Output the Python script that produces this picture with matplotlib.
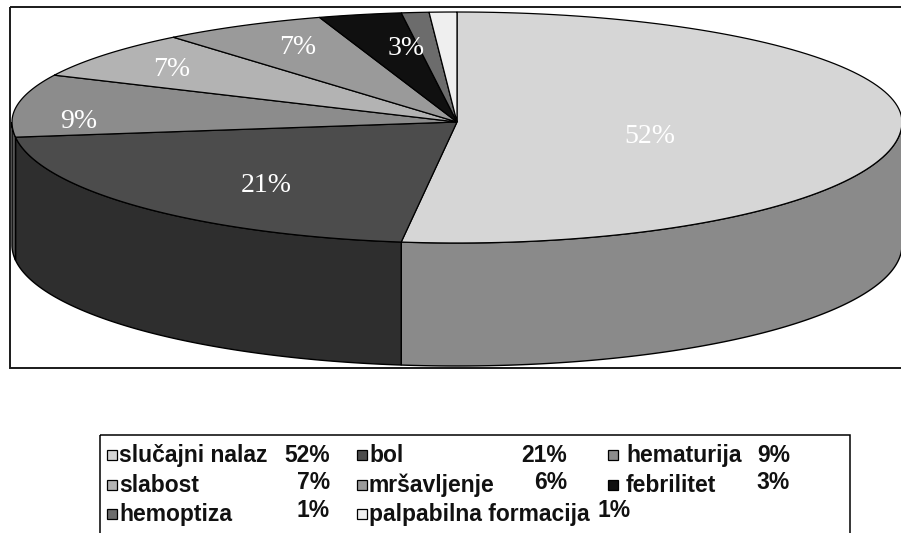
import numpy as np
import matplotlib
matplotlib.use("Agg")
import matplotlib.pyplot as plt
from matplotlib.patches import Polygon, Rectangle

# data (legend values; chart labels as printed)
CATEGORIES = ["slučajni nalaz", "bol", "hematurija", "slabost", "mršavljenje",
              "febrilitet", "hemoptiza", "palpabilna formacija"]
PERCENT = [52, 21, 9, 7, 6, 3, 1, 1]
PIE_LABELS = ["52%", "21%", "9%", "7%", "7%", "3%", "", ""]

TOP_COLORS = ["#d6d6d6", "#4c4c4c", "#8c8c8c", "#b3b3b3", "#9a9a9a",
              "#101010", "#6c6c6c", "#efefef"]
SIDE_COLORS = ["#8a8a8a", "#2e2e2e", "#555555", "#777777", "#666666",
               "#080808", "#444444", "#b0b0b0"]

# label nudges (degrees) and radial fraction, to sit where the scan has them
LABEL_NUDGE = [12, -6, -9, -1, 1, 3, 0, 0]
LABEL_R = [0.45, 0.68, 0.85, 0.80, 0.77, 0.68, 0, 0]

# pie geometry in pixels
CX, CY = 457, 122
A, B_BACK, B_FRONT = 445, 110, 121
DEPTH = 123

W, H = 901, 533


def rim(theta, f=1.0):
    t = np.radians(theta)
    b = np.where(np.cos(t) > 0, B_BACK, B_FRONT)
    return CX + A * f * np.sin(t), CY - b * f * np.cos(t)


fig = plt.figure(figsize=(W / 100, H / 100), dpi=100)
ax = fig.add_axes([0, 0, 1, 1])
ax.set_xlim(0, W)
ax.set_ylim(H, 0)
ax.axis("off")

frame = Rectangle((10, 7), 900, 361, fill=False, edgecolor="#1a1a1a", lw=1.4, zorder=10)
ax.add_patch(frame)
clip = Rectangle((10, 7), 900, 361, transform=ax.transData)

bounds = np.concatenate([[0], np.cumsum(PERCENT)]) / sum(PERCENT) * 360.0

# outer walls (front half only)
for i in range(len(PERCENT)):
    lo, hi = max(bounds[i], 90), min(bounds[i + 1], 270)
    if hi <= lo:
        continue
    ts = np.linspace(lo, hi, 120)
    x, y = rim(ts)
    pts = np.column_stack([np.concatenate([x, x[::-1]]),
                           np.concatenate([y, y[::-1] + DEPTH])])
    p = Polygon(pts, closed=True, facecolor=SIDE_COLORS[i], edgecolor="black", lw=1.0)
    ax.add_patch(p)
    p.set_clip_path(clip)

# top faces
for i in range(len(PERCENT)):
    ts = np.linspace(bounds[i], bounds[i + 1], 120)
    x, y = rim(ts)
    pts = np.column_stack([np.concatenate([[CX], x]), np.concatenate([[CY], y])])
    p = Polygon(pts, closed=True, facecolor=TOP_COLORS[i], edgecolor="black", lw=0.9)
    ax.add_patch(p)
    p.set_clip_path(clip)

for i, lab in enumerate(PIE_LABELS):
    if not lab:
        continue
    mid = (bounds[i] + bounds[i + 1]) / 2 + LABEL_NUDGE[i]
    lx, ly = rim(mid, LABEL_R[i])
    ax.text(lx, ly, lab, color="white", fontsize=20, ha="center", va="center",
            family=["Liberation Serif", "DejaVu Serif"], zorder=5)

# legend box (runs off the bottom of the scan)
ax.add_patch(Rectangle((100, 435), 750, 130, fill=False, edgecolor="black", lw=1.1, zorder=10))

MARK_X = [107, 357, 608]
TEXT_X = [119, 369, 626]
PCT_RIGHT = [330, 567, 790]
ROW_BASE = [462, 492, 521]
PCT_LIFT = [0, -3, -4]

fig.canvas.draw()
renderer = fig.canvas.get_renderer()
inv = ax.transData.inverted()
lfont = dict(family=["Liberation Sans", "DejaVu Sans"], fontweight="bold", fontsize=16.5,
             color="#111111")
for i, (name, val) in enumerate(zip(CATEGORIES, PERCENT)):
    r, c = divmod(i, 3)
    base = ROW_BASE[r]
    ax.add_patch(Rectangle((MARK_X[c], base - 12), 10, 10, facecolor=TOP_COLORS[i],
                           edgecolor="black", lw=0.9))
    t = ax.text(TEXT_X[c], base, name, ha="left", va="baseline", **lfont)
    bb = t.get_window_extent(renderer)
    label_right = inv.transform((bb.x1, bb.y1))[0]
    pct = f"{val}%"
    p = ax.text(PCT_RIGHT[c], base + PCT_LIFT[r], pct, ha="right", va="baseline", **lfont)
    pb = p.get_window_extent(renderer)
    pw = inv.transform((pb.x1, 0))[0] - inv.transform((pb.x0, 0))[0]
    if PCT_RIGHT[c] - pw < label_right + 8:
        p.set_position((label_right + 8, base + PCT_LIFT[r]))
        p.set_ha("left")

fig.savefig("out.png", dpi=100)
